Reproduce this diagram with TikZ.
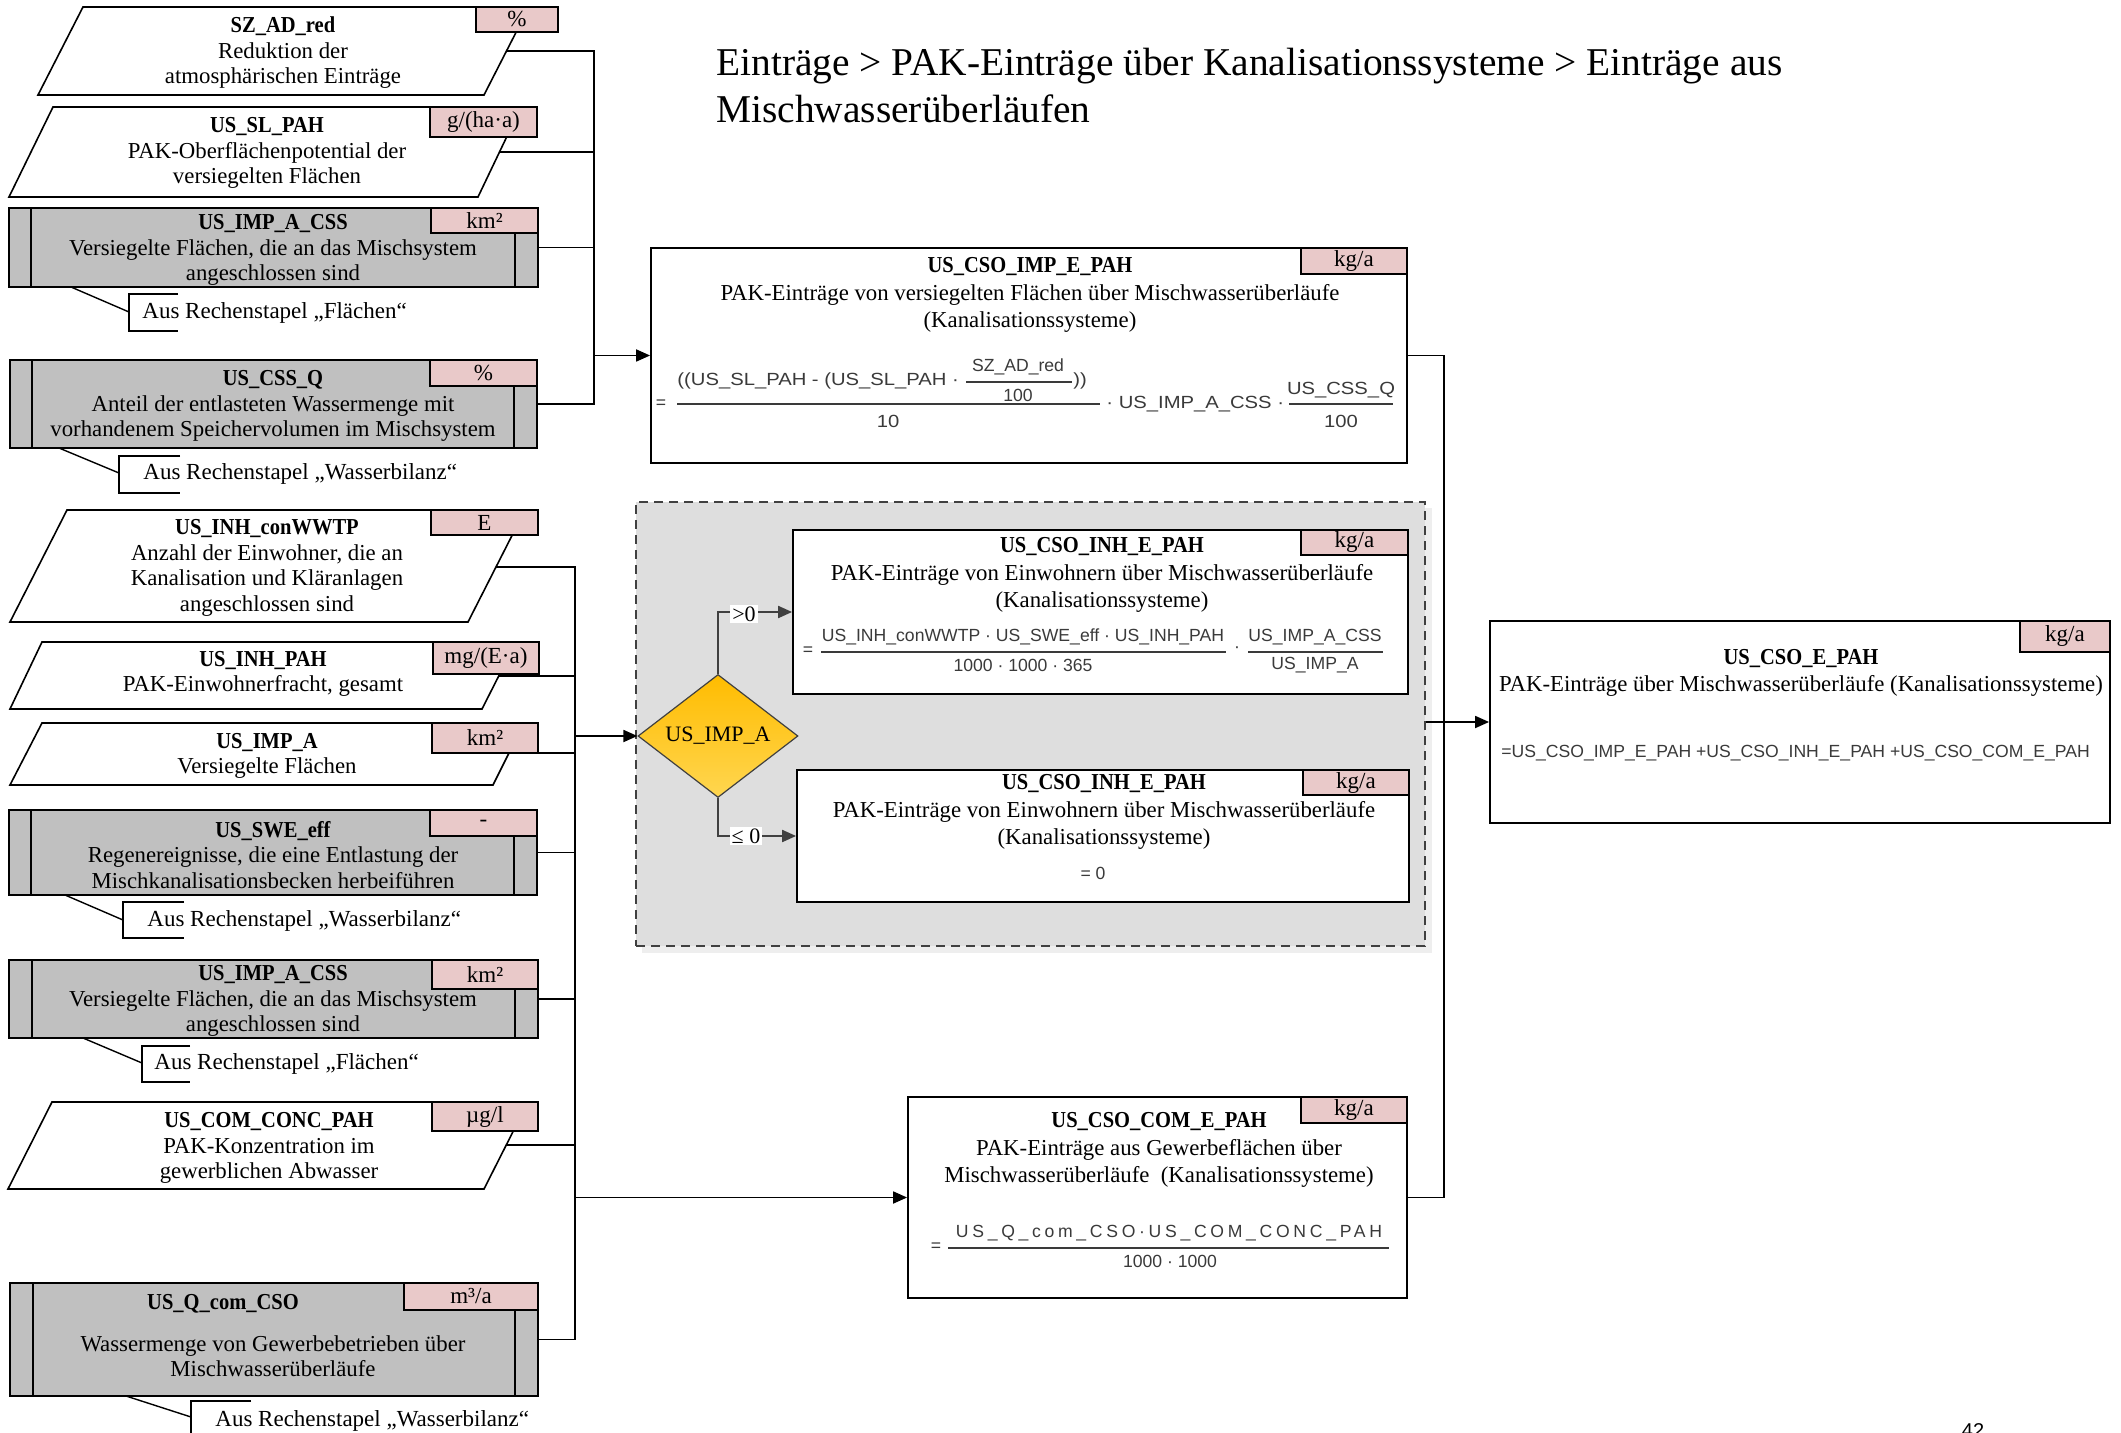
\documentclass[tikz,border=0pt]{standalone}
\usepackage{fontspec}
\usepackage{graphicx}
\setmainfont{Liberation Serif}
\newfontfamily\formfont{Liberation Sans}
\usetikzlibrary{fit,shapes.geometric,arrows.meta}

\definecolor{unitpink}{RGB}{233,201,201}
\definecolor{boxgrey}{RGB}{192,192,192}
\definecolor{groupgrey}{RGB}{222,222,222}
\definecolor{groupshadow}{RGB}{238,238,238}
\definecolor{darkline}{RGB}{64,64,64}
\definecolor{formgrey}{RGB}{58,58,58}
\definecolor{decitop}{RGB}{255,188,0}
\definecolor{decibot}{RGB}{255,214,80}

\newcommand\fs[2]{\fontsize{#1}{#2}\selectfont}
\newcommand\wide[1]{\scalebox{1.15}[1]{#1}}
% bold variable names, set tall and narrow
\newcommand\vn[1]{\scalebox{0.9}[1]{\fontsize{11.4}{12.75}\selectfont\bfseries #1}}

\begin{document}
\begin{tikzpicture}[x=0.5pt, y=-0.5pt,
  txt/.style={font=\fs{11.4}{12.75}, align=center, inner sep=0pt},
  rtxt/.style={font=\fs{11.4}{13.75}, align=center, inner sep=0pt},
  note/.style={font=\fs{11.5}{12.75}, anchor=west, inner sep=0pt},
  unittxt/.style={font=\fs{11.5}{12.75}, inner sep=0pt},
  parabox/.style={draw, fill=white, line width=0.8pt},
  greybox/.style={draw, fill=boxgrey, line width=0.8pt, inner sep=0pt},
  unitbox/.style={draw, fill=unitpink, line width=0.8pt, inner sep=0pt},
  calcbox/.style={draw, fill=white, line width=0.9pt, inner sep=0pt},
  groupbox/.style={draw=darkline, fill=groupgrey, dash pattern=on 4.5pt off 3pt, line width=0.8pt, inner sep=0pt},
  sidebar/.style={line width=0.8pt},
  conn/.style={line width=0.9pt},
  arr/.style={conn, -{Triangle[length=7pt,width=6pt]}},
  branch/.style={line width=1pt, draw=darkline, -{Triangle[length=7pt,width=6pt]}},
  notelink/.style={line width=0.7pt},
  formA/.style={font=\formfont\fs{8.8}{10}, text=formgrey, inner sep=0pt},
  fbar/.style={line width=0.6pt, draw=formgrey},
  lbl/.style={fill=white, inner sep=1pt, font=\fs{11}{12}},
]
\useasboundingbox (0,0) rectangle (2121,1433);

% ---------- title and page number ----------
\node[anchor=west, align=left, font=\fs{19.7}{23.5}, inner sep=0pt] (title) at (716,86)
  {Einträge > PAK-Einträge über Kanalisationssysteme > Einträge aus\\Mischwasserüberläufen};
\node[font=\formfont\fs{10}{12}, anchor=base, inner sep=0pt] (page) at (1973,1437) {42};

% ---------- decision group ----------
\fill[groupshadow] (642,508) rectangle (1432,953);
\node[groupbox, fit={(636,502) (1425,946)}] (group) {};

% ---------- left inputs, upper block ----------
\draw[parabox] (83,7) -- (529,7) -- (484,95) -- (38,95) -- cycle;
\node[unitbox, fit={(476,7) (558,32)}, label={[unittxt]center:\%}] (u-szad) {};
\node[txt] (szad) at (283,53) {\vn{SZ\_AD\_red}\\Reduktion der\\atmosphärischen Einträge};

\draw[parabox] (53,107) -- (521,107) -- (478,197) -- (9,197) -- cycle;
\node[unitbox, fit={(430,107) (537,137)}, label={[unittxt]center:g/(ha·a)}] (u-slpah) {};
\node[txt] (slpah) at (267,153) {\vn{US\_SL\_PAH}\\PAK-Oberflächenpotential der\\versiegelten Flächen};

\node[greybox, fit={(9,208) (538,287)}] (impcss1) {};
\draw[sidebar] (31,208) -- (31,287);
\draw[sidebar] (515,233) -- (515,287);
\node[unitbox, fit={(431,208) (538,233)}, label={[unittxt]center:km²}] (u-impcss1) {};
\node[txt] (t-impcss1) at (273,250) {\vn{US\_IMP\_A\_CSS}\\Versiegelte Flächen, die an das Mischsystem\\angeschlossen sind};
\node[note] (n1) at (142,313) {Aus Rechenstapel „Flächen“};
\coordinate (n1a) at (71,287);
\coordinate (n1b) at (129,312);
\draw[notelink] (n1a) -- (n1b);
\draw[notelink] (178,294) -| (129,331) -- (178,331);

\node[greybox, fit={(10,360) (537,448)}] (cssq) {};
\draw[sidebar] (32,360) -- (32,448);
\draw[sidebar] (514,386) -- (514,448);
\node[unitbox, fit={(430,360) (537,386)}, label={[unittxt]center:\%}] (u-cssq) {};
\node[txt] (t-cssq) at (273,406) {\vn{US\_CSS\_Q}\\Anteil der entlasteten Wassermenge mit\\vorhandenem Speichervolumen im Mischsystem};
\node[note] (n2) at (143,474) {Aus Rechenstapel „Wasserbilanz“};
\coordinate (n2a) at (59,448);
\coordinate (n2b) at (119,473);
\draw[notelink] (n2a) -- (n2b);
\draw[notelink] (180,456) -| (119,493) -- (180,493);

% ---------- left inputs, lower block ----------
\draw[parabox] (67,510) -- (525,510) -- (468,622) -- (10,622) -- cycle;
\node[unitbox, fit={(431,510) (538,535)}, label={[unittxt]center:E}] (u-inhcon) {};
\node[txt] (inhcon) at (267,568) {\vn{US\_INH\_conWWTP}\\Anzahl der Einwohner, die an\\Kanalisation und Kläranlagen\\angeschlossen sind};

\draw[parabox] (42,642) -- (516,642) -- (482,709) -- (10,709) -- cycle;
\node[unitbox, fit={(433,642) (539,674)}, label={[unittxt]center:mg/(E·a)}] (u-inhpah) {};
\node[txt] (inhpah) at (263,674) {\vn{US\_INH\_PAH}\\PAK-Einwohnerfracht, gesamt};

\draw[parabox] (42,723) -- (524,723) -- (493,785) -- (10,785) -- cycle;
\node[unitbox, fit={(432,723) (538,753)}, label={[unittxt]center:km²}] (u-impa) {};
\node[txt] (impa) at (267,756) {\vn{US\_IMP\_A}\\Versiegelte Flächen};

\node[greybox, fit={(9,810) (537,895)}] (swe) {};
\draw[sidebar] (31,810) -- (31,895);
\draw[sidebar] (514,836) -- (514,895);
\node[unitbox, fit={(430,810) (537,836)}, label={[unittxt]center:-}] (u-swe) {};
\node[txt] (t-swe) at (273,855) {\vn{US\_SWE\_eff}\\Regenereignisse, die eine Entlastung der\\Mischkanalisationsbecken herbeiführen};
\node[note] (n3) at (147,921) {Aus Rechenstapel „Wasserbilanz“};
\coordinate (n3a) at (65,895);
\coordinate (n3b) at (123,920);
\draw[notelink] (n3a) -- (n3b);
\draw[notelink] (184,902) -| (123,938) -- (184,938);

\node[greybox, fit={(9,960) (538,1038)}] (impcss2) {};
\draw[sidebar] (32,960) -- (32,1038);
\draw[sidebar] (515,989) -- (515,1038);
\node[unitbox, fit={(432,960) (538,989)}, label={[unittxt]center:km²}] (u-impcss2) {};
\node[txt] (t-impcss2) at (273,1001) {\vn{US\_IMP\_A\_CSS}\\Versiegelte Flächen, die an das Mischsystem\\angeschlossen sind};
\node[note] (n4) at (154,1064) {Aus Rechenstapel „Flächen“};
\coordinate (n4a) at (83,1038);
\coordinate (n4b) at (142,1063);
\draw[notelink] (n4a) -- (n4b);
\draw[notelink] (190,1046) -| (142,1082) -- (190,1082);

\draw[parabox] (52,1102) -- (528,1102) -- (484,1189) -- (8,1189) -- cycle;
\node[unitbox, fit={(432,1102) (538,1131)}, label={[unittxt]center:µg/l}] (u-comconc) {};
\node[txt] (comconc) at (269,1148) {\vn{US\_COM\_CONC\_PAH}\\PAK-Konzentration im\\gewerblichen Abwasser};

\node[greybox, fit={(10,1283) (538,1396)}] (qcom) {};
\draw[sidebar] (33,1283) -- (33,1396);
\draw[sidebar] (515,1310) -- (515,1396);
\node[unitbox, fit={(404,1283) (538,1310)}, label={[unittxt]center:m³/a}] (u-qcom) {};
\node[txt] (t-qcom-a) at (223,1304) {\vn{US\_Q\_com\_CSO}};
\node[txt] (t-qcom-b) at (273,1356) {Wassermenge von Gewerbebetrieben über\\Mischwasserüberläufe};
\node[note] (n5) at (215,1421) {Aus Rechenstapel „Wasserbilanz“};
\coordinate (n5a) at (126,1396);
\coordinate (n5b) at (191,1417);
\draw[notelink] (n5a) -- (n5b);
\draw[notelink] (251,1401) -| (191,1450);

% ---------- calculation boxes ----------
\node[calcbox, fit={(651,248) (1407,463)}] (imp) {};
\node[unitbox, fit={(1301,248) (1407,274)}, label={[unittxt]center:kg/a}] (u-imp) {};
\node[rtxt] (t-imp) at (1030,295) {\vn{US\_CSO\_IMP\_E\_PAH}\\PAK-Einträge von versiegelten Flächen über Mischwasserüberläufe\\(Kanalisationssysteme)};
% formula of the sealed-area entry
\node[formA] (fi-eq) at (661,404) {=};
\node[formA, anchor=west] (fi-n) at (677,381) {\wide{((US\_SL\_PAH - (US\_SL\_PAH ·}};
\node[formA] (fi-sz) at (1018,367) {SZ\_AD\_red};
\draw[fbar] (966,382) -- (1072,382);
\node[formA] (fi-100a) at (1018,395) {100};
\node[formA, anchor=west] (fi-cl) at (1073,381) {\wide{))}};
\draw[fbar] (677,404) -- (1100,404);
\node[formA] (fi-10) at (888,421) {\wide{10}};
\node[formA, anchor=west] (fi-mid) at (1106,404) {\wide{· US\_IMP\_A\_CSS ·}};
\node[formA] (fi-css) at (1341,390) {\wide{US\_CSS\_Q}};
\draw[fbar] (1289,404) -- (1393,404);
\node[formA] (fi-100b) at (1341,421) {\wide{100}};

\node[calcbox, fit={(793,530) (1408,694)}] (inh1) {};
\node[unitbox, fit={(1301,530) (1408,555)}, label={[unittxt]center:kg/a}] (u-inh1) {};
\node[rtxt] (t-inh1) at (1102,575) {\vn{US\_CSO\_INH\_E\_PAH}\\PAK-Einträge von Einwohnern über Mischwasserüberläufe\\(Kanalisationssysteme)};
\node[formA] (fh-eq) at (808,651) {=};
\node[formA] (fh-n) at (1023,637) {US\_INH\_conWWTP · US\_SWE\_eff · US\_INH\_PAH};
\draw[fbar] (821,652) -- (1226,652);
\node[formA] (fh-d) at (1023,665) {1000 · 1000 · 365};
\node[formA] (fh-dot) at (1237,650) {·};
\node[formA] (fh-n2) at (1315,637) {US\_IMP\_A\_CSS};
\draw[fbar] (1248,652) -- (1383,652);
\node[formA] (fh-d2) at (1315,665) {US\_IMP\_A};

\node[calcbox, fit={(797,770) (1409,902)}] (inh2) {};
\node[unitbox, fit={(1303,770) (1409,795)}, label={[unittxt]center:kg/a}] (u-inh2) {};
\node[rtxt] (t-inh2) at (1104,812) {\vn{US\_CSO\_INH\_E\_PAH}\\PAK-Einträge von Einwohnern über Mischwasserüberläufe\\(Kanalisationssysteme)};
\node[formA] (fz) at (1093,873) {= 0};

\node[calcbox, fit={(908,1097) (1407,1298)}] (com) {};
\node[unitbox, fit={(1301,1097) (1407,1123)}, label={[unittxt]center:kg/a}] (u-com) {};
\node[rtxt] (t-com) at (1159,1150) {\vn{US\_CSO\_COM\_E\_PAH}\\PAK-Einträge aus Gewerbeflächen über\\Mischwasserüberläufe\ \ (Kanalisationssysteme)};
\node[formA] (fc-eq) at (936,1247) {=};
\node[formA] (fc-n) at (1169,1233) {\addfontfeature{LetterSpace=21}US\_Q\_com\_CSO·US\_COM\_CONC\_PAH};
\draw[fbar] (948,1248) -- (1389,1248);
\node[formA] (fc-d) at (1170,1261) {1000 · 1000};

\node[calcbox, fit={(1490,621) (2110,823)}] (res) {};
\node[unitbox, fit={(2020,621) (2110,652)}, label={[unittxt]center:kg/a}] (u-res) {};
\node[rtxt] (t-res) at (1801,673) {\vn{US\_CSO\_E\_PAH}\\PAK-Einträge über Mischwasserüberläufe (Kanalisationssysteme)};
\node[formA, anchor=west] (fr) at (1501,753) {=US\_CSO\_IMP\_E\_PAH +US\_CSO\_INH\_E\_PAH +US\_CSO\_COM\_E\_PAH};

% ---------- decision ----------
\node[diamond, draw=darkline, line width=0.6pt, top color=decitop, bottom color=decibot,
      minimum width=80pt, minimum height=61.5pt, inner sep=0pt, font=\fs{11}{12}] (dec) at (718,736) {US\_IMP\_A};
\draw[branch] (dec.north) |- (inh1.west);
\draw[branch] (dec.south) |- (inh2.west);
\node[lbl] (gt0) at (744,614) {>0};
\node[lbl] (le0) at (746,836) {≤ 0};

% ---------- connectors ----------
\coordinate (o-szad) at (507,51);
\coordinate (o-slpah) at (499,152);
\coordinate (busx1) at (594,0);
\draw[conn] (o-szad) -- (o-szad -| busx1) -- (cssq.east -| busx1) -- (cssq.east);
\draw[conn] (o-slpah) -- (o-slpah -| busx1);
\draw[conn] (impcss1.east) -- (impcss1.east -| busx1);
\draw[arr] (imp.west -| busx1) -- (imp.west);

\coordinate (o-inhcon) at (496,567);
\coordinate (o-inhpah) at (499,676);
\coordinate (o-impa) at (509,753);
\coordinate (o-comconc) at (506,1145);
\coordinate (busx2) at (575,0);
\draw[conn] (o-inhcon) -- (o-inhcon -| busx2) -- (qcom.east -| busx2) -- (qcom.east);
\draw[conn] (o-inhpah) -- (o-inhpah -| busx2);
\draw[conn] (o-impa) -- (o-impa -| busx2);
\draw[conn] (swe.east) -- (swe.east -| busx2);
\draw[conn] (impcss2.east) -- (impcss2.east -| busx2);
\draw[conn] (o-comconc) -- (o-comconc -| busx2);
\draw[arr] (dec.west -| busx2) -- (dec.west);
\draw[arr] (com.west -| busx2) -- (com.west);

\coordinate (busx3) at (1444,0);
\draw[conn] (imp.east) -- (imp.east -| busx3) -- (com.east -| busx3) -- (com.east);
\draw[arr] (res.west -| group.east) -- (res.west);
\end{tikzpicture}
\end{document}
